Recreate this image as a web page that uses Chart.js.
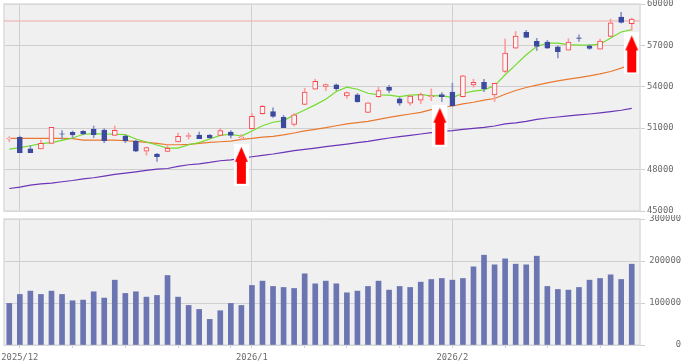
<!DOCTYPE html>
<html>
<head>
<meta charset="utf-8">
<title>Candlestick chart</title>
<script src="https://cdn.jsdelivr.net/npm/chart.js@4"></script>
<style>
html,body{margin:0;padding:0;background:#fff;width:681px;height:363px;overflow:hidden}
canvas{position:absolute;left:0;top:0}
</style>
</head>
<body>
<div style="position:absolute;left:0;top:0;width:681px;height:215px"><canvas id="price" width="681" height="215"></canvas></div>
<div style="position:absolute;left:0;top:215px;width:681px;height:148px"><canvas id="volumeC" width="681" height="148"></canvas></div>
<script>
const categories = ["2025/11/28","2025/12/1","2025/12/2","2025/12/3","2025/12/4","2025/12/5","2025/12/8","2025/12/9","2025/12/10","2025/12/11","2025/12/12","2025/12/15","2025/12/16","2025/12/17","2025/12/18","2025/12/19","2025/12/22","2025/12/23","2025/12/24","2025/12/25","2025/12/26","2025/12/29","2025/12/30","2026/1/5","2026/1/6","2026/1/7","2026/1/8","2026/1/9","2026/1/13","2026/1/14","2026/1/15","2026/1/16","2026/1/19","2026/1/20","2026/1/21","2026/1/22","2026/1/23","2026/1/26","2026/1/27","2026/1/28","2026/1/29","2026/1/30","2026/2/2","2026/2/3","2026/2/4","2026/2/5","2026/2/6","2026/2/9","2026/2/10","2026/2/12","2026/2/13","2026/2/16","2026/2/17","2026/2/18","2026/2/19","2026/2/20","2026/2/24","2026/2/25","2026/2/26","2026/2/27"];
const opens = [50220,50340,49510,49490,49900,50600,50700,50770,50940,50870,50480,50430,50070,49340,49130,49320,50000,50410,50510,50510,50480,50720,50310,50970,52060,52200,51790,51280,52730,53820,54020,54140,53340,53410,52150,53290,53970,53120,52810,53030,53290,53440,53610,53290,54140,54330,53410,55110,56800,57940,57290,57240,56900,56660,57550,56970,56730,57650,59060,58570];
const highs = [50390,50430,49730,50140,51060,50820,50800,50820,51160,50970,51160,50510,50140,49630,49170,49800,50650,50650,50720,50550,50990,50820,50550,52080,52660,52470,51930,52060,53900,54550,54210,54210,53610,53510,52850,53970,54110,53220,53390,53560,53850,53580,54260,54840,54550,54550,54260,57460,58010,58090,57510,57360,56970,57480,57770,57050,57460,58910,59400,58980];
const lows = [50020,49220,49220,49490,49900,50190,50290,50510,50310,49950,50480,49950,49300,49050,48590,49300,50000,50220,50240,50260,50480,50290,50140,50970,52010,51790,51040,51160,52710,53820,53730,53730,53150,52880,52130,53240,53580,52660,52660,52780,53000,52930,52610,53270,53970,53650,52930,55040,56780,57580,56630,56780,56100,56660,57290,56710,56730,57650,58620,58090];
const closes = [50260,49220,49220,49900,51060,50560,50510,50580,50530,50090,50850,50090,49340,49590,48930,49540,50410,50460,50240,50290,50820,50480,50360,51860,52590,51860,51040,51960,53610,54400,54160,53870,53580,52930,52830,53730,53730,52810,53320,53440,53340,53290,52610,54790,54330,53850,54260,56440,57680,57580,56920,56800,56540,57240,57500,56780,57310,58640,58670,58910];
const shortAverage = [49490,49590,49730,49880,49950,50120,50290,50560,50600,50580,50560,50530,50220,50000,49780,49560,49560,49800,49950,50220,50480,50560,50430,50800,51180,51430,51550,51960,52320,52690,53100,53660,53970,53820,53530,53410,53390,53290,53390,53440,53340,53360,53220,53530,53680,53780,54070,54870,55590,56320,56920,57170,57170,57050,57020,57020,57090,57530,57970,58140];
const midAverage = [50260,50260,50260,50260,50260,50260,50240,50140,50140,50140,50140,50090,50050,49970,49900,49800,49800,49830,49900,49970,50020,50070,50190,50260,50360,50410,50510,50650,50800,50920,51040,51180,51310,51400,51500,51640,51790,51910,52030,52150,52350,52520,52610,52760,52880,53030,53150,53460,53730,53950,54120,54280,54430,54550,54670,54790,54940,55110,55350,55640];
const longAverage = [46630,46730,46870,46970,47020,47120,47210,47330,47410,47530,47650,47750,47840,47940,48040,48080,48230,48350,48420,48520,48640,48710,48810,48930,49030,49130,49250,49370,49470,49560,49660,49760,49850,49950,50050,50170,50290,50390,50480,50580,50680,50770,50820,50920,50990,51060,51160,51310,51380,51500,51640,51740,51810,51890,51960,52030,52110,52200,52300,52440];
const volumes = [99000,120400,128300,120400,128300,120400,105300,106900,126700,111700,154400,122800,126700,114000,118000,165500,114000,94200,84700,61000,81600,99000,94200,141800,152100,139400,137000,134600,169500,145700,152100,145700,124300,128300,139400,152100,130700,139400,137000,149700,156000,158400,154400,158400,186100,213800,190900,205100,192500,190900,211500,139400,132300,130700,137000,154400,158400,167100,156000,192500];
const resistanceLevel = 58770;
const signalDays = ["2025/12/30","2026/1/30","2026/2/27"];
const signalLevels = [48350,51180,56420];
const weekTicks = ["2025/12/1","2025/12/8","2025/12/15","2025/12/22","2025/12/29","2026/1/5","2026/1/13","2026/1/19","2026/1/26","2026/2/2","2026/2/9","2026/2/16","2026/2/24"];
const monthTicks = ["2025/12/1","2026/1/5","2026/2/2"];
const monthLabels = ["2025/12","2026/1","2026/2"];

const FONT = {family:'"DejaVu Sans Mono"', size:8.8};
const TEXT = '#6a6a6a', GRID = '#cfcfcf', FRAME = '#dcdcdc', PLOT = '#f0f0f0';
const UP_EDGE = '#f6474f', UP_WICK = '#ff9c9c', UP_FILL = '#f9f5f5';
const DOWN_FILL = '#3c4a9e', DOWN_WICK = '#8a94c6', VOL = '#6b75b2';

function makeSignalMark(shift){
  const c = document.createElement('canvas');
  c.width = 15 + Math.abs(shift)*2; c.height = 42;
  const g = c.getContext('2d');
  const x0 = shift < 0 ? 0 : shift*2;
  g.fillStyle = '#fff'; g.fillRect(x0,0,15,42);
  g.fillStyle = '#ff0000';
  g.beginPath();
  g.moveTo(x0+7.5,3); g.lineTo(x0+14,18); g.lineTo(x0+12,18); g.lineTo(x0+12,40);
  g.lineTo(x0+3,40); g.lineTo(x0+3,18); g.lineTo(x0+1,18); g.closePath();
  g.fill();
  return c;
}
const signalMarks = [makeSignalMark(0), makeSignalMark(-2), makeSignalMark(0)];

const panelPlugin = {
  id:'panel',
  beforeDraw(chart){
    const a = chart.chartArea, g = chart.ctx;
    g.save();
    g.fillStyle = PLOT;
    g.fillRect(a.left, a.top, a.right + 3 - a.left, a.bottom - a.top);
    g.restore();
  },
  beforeDatasetsDraw(chart){
    const a = chart.chartArea, g = chart.ctx;
    g.save();
    g.strokeStyle = FRAME; g.lineWidth = 1.5;
    g.strokeRect(a.left, a.top, a.right + 3 - a.left, a.bottom - a.top);
    if (chart.options.plugins.panel.level) {
      const y = chart.scales.y.getPixelForValue(chart.options.plugins.panel.level);
      g.strokeStyle = '#efa9a9'; g.lineWidth = 1;
      g.beginPath(); g.moveTo(a.left, y); g.lineTo(a.right + 3, y); g.stroke();
    }
    g.restore();
  }
};

function xScale(showLabels){
  return {
    offset:true,
    afterBuildTicks(s){ s.ticks = weekTicks.map(d => ({value:categories.indexOf(d)})); },
    afterFit(s){ s.height = showLabels ? 18 : 0; s.paddingLeft = 0; s.paddingRight = 0; },
    grid:{
      offset:false, lineWidth:1, drawTicks:showLabels, tickLength:3,
      color:c => monthTicks.includes(categories[c.tick && c.tick.value]) ? GRID : 'rgba(0,0,0,0)',
      tickColor:GRID
    },
    border:{display:false},
    ticks:{
      display:showLabels, autoSkip:false, maxRotation:0, minRotation:0, padding:4,
      color:TEXT, font:FONT,
      callback(v){ const i = monthTicks.indexOf(categories[v]); return i >= 0 ? monthLabels[i] : ''; }
    }
  };
}
function yScale(min,max,step,width,align){
  return {
    position:'right', min, max,
    afterFit(s){ s.width = width; s.paddingTop = 0; s.paddingBottom = 0; },
    grid:{color:GRID, lineWidth:1, tickLength:8, tickColor:GRID},
    border:{display:false},
    ticks:{stepSize:step, padding:2, color:TEXT, font:FONT, crossAlign:align, callback:v => String(v)}
  };
}

const isUp = i => closes[i] >= opens[i];
const lineSet = (data,color,order) => ({type:'line',data,borderColor:color,borderWidth:1.2,pointRadius:0,tension:0,order,fill:false});

new Chart(document.getElementById('price'),{
  type:'bar',
  data:{labels:categories,datasets:[
    {type:'line',data:categories.map(d => { const i = signalDays.indexOf(d); return i >= 0 ? signalLevels[i] : null; }),
     showLine:false,order:0,clip:false,
     pointStyle:c => { const i = signalDays.indexOf(categories[c.dataIndex]); return i >= 0 ? signalMarks[i] : false; },
     pointRadius:c => signalDays.includes(categories[c.dataIndex]) ? 8 : 0},
    {data:categories.map((d,i) => [Math.min(opens[i],closes[i]),Math.max(opens[i],closes[i])]),
     barThickness:5,borderWidth:1,borderSkipped:false,grouped:false,order:1,
     backgroundColor:c => isUp(c.dataIndex) ? UP_FILL : DOWN_FILL,
     borderColor:c => isUp(c.dataIndex) ? UP_EDGE : DOWN_FILL},
    {data:categories.map((d,i) => [lows[i],highs[i]]),
     barThickness:1,grouped:false,order:2,
     backgroundColor:c => isUp(c.dataIndex) ? UP_WICK : DOWN_WICK},
    lineSet(shortAverage,'#72dd2c',3),
    lineSet(midAverage,'#e97a30',4),
    lineSet(longAverage,'#6a35b8',5)
  ]},
  options:{
    responsive:false,animation:false,
    layout:{autoPadding:false,padding:{left:4,top:4,right:0,bottom:4}},
    plugins:{legend:{display:false},tooltip:{enabled:false},panel:{level:resistanceLevel}},
    scales:{x:xScale(false),y:yScale(45000,60000,3000,44,'near')}
  },
  plugins:[panelPlugin]
});

new Chart(document.getElementById('volumeC'),{
  type:'bar',
  data:{labels:categories,datasets:[
    {data:volumes,backgroundColor:VOL,barThickness:5,grouped:false}
  ]},
  options:{
    responsive:false,animation:false,
    layout:{autoPadding:false,padding:{left:4,top:4,right:0,bottom:0}},
    plugins:{legend:{display:false},tooltip:{enabled:false},panel:{}},
    scales:{x:xScale(true),y:yScale(0,300000,100000,44,'far')}
  },
  plugins:[panelPlugin]
});
</script>
</body>
</html>
